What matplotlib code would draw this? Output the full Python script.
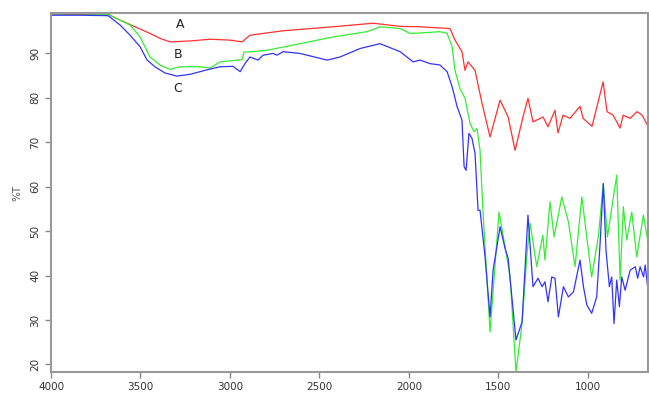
import matplotlib
matplotlib.use("Agg")
import matplotlib.pyplot as plt

# Sample A (red)
wn_a = [4000, 3838, 3681, 3614, 3530, 3447, 3391, 3335, 3223, 3111, 2999, 2932, 2888,
        2703, 2424, 2200, 2049, 1937, 1770, 1742, 1703, 1686, 1669, 1630, 1591, 1546,
        1490, 1445, 1406, 1362, 1334, 1306, 1250, 1222, 1183, 1166, 1138, 1099, 1043,
        1026, 976, 914, 892, 858, 819, 802, 763, 724, 696, 663]
t_a = [98.85, 98.8, 98.8, 97.5, 96.0, 94.5, 93.4, 92.6, 92.8, 93.2, 93.0, 92.6, 94.1,
       95.1, 96.0, 96.8, 96.1, 96.0, 95.6, 93.0, 90.4, 86.2, 88.1, 86.2, 78.8, 71.2,
       79.5, 75.7, 68.2, 75.7, 79.9, 74.6, 75.7, 73.5, 77.2, 72.1, 76.1, 75.4, 78.1,
       75.4, 73.6, 83.6, 76.9, 76.1, 73.2, 76.1, 75.4, 76.9, 76.1, 73.6]

# Sample B (green)
wn_b = [4000, 3838, 3681, 3558, 3502, 3475, 3447, 3391, 3335, 3279, 3167, 3111, 3055,
        2932, 2921, 2871, 2793, 2608, 2424, 2234, 2161, 2049, 1993, 1937, 1826, 1786,
        1758, 1742, 1714, 1686, 1658, 1636, 1619, 1602, 1586, 1546, 1496, 1462, 1434,
        1401, 1367, 1339, 1322, 1285, 1251, 1239, 1211, 1188, 1145, 1108, 1071, 1033,
        978, 941, 913, 890, 838, 819, 801, 782, 754, 726, 689, 661]
t_b = [98.9, 98.9, 98.8, 96.4, 93.7, 91.5, 89.2, 87.4, 86.4, 87.0, 87.0, 86.7, 88.1,
       88.6, 90.3, 90.4, 90.7, 92.2, 93.7, 94.9, 96.0, 95.6, 94.5, 94.6, 94.9, 94.5,
       91.5, 86.2, 82.1, 79.9, 74.3, 72.4, 73.1, 68.2, 54.7, 27.3, 54.3, 46.5, 39.7,
       18.3, 29.3, 45.1, 51.7, 42.0, 49.1, 43.5, 56.6, 48.7, 57.7, 52.1, 42.0, 57.7,
       39.7, 48.7, 60.7, 48.7, 62.6, 39.0, 55.5, 48.0, 54.3, 44.2, 53.6, 47.2]

# Sample C (blue)
wn_c = [4000, 3838, 3681, 3614, 3558, 3502, 3463, 3419, 3363, 3296, 3223, 3139, 3055,
        2983, 2943, 2916, 2888, 2843, 2815, 2759, 2737, 2703, 2608, 2457, 2385, 2273,
        2161, 2049, 1976, 1937, 1881, 1826, 1786, 1758, 1730, 1703, 1691, 1680, 1664,
        1647, 1630, 1613, 1602, 1574, 1546, 1529, 1490, 1462, 1445, 1401, 1367, 1334,
        1306, 1278, 1255, 1239, 1222, 1201, 1183, 1164, 1136, 1108, 1080, 1043, 1024,
        1005, 978, 950, 931, 913, 898, 879, 866, 853, 838, 823, 810, 791, 763, 734,
        721, 707, 688, 679, 661]
t_c = [98.6, 98.6, 98.5, 96.4, 94.1, 91.5, 88.5, 87.0, 85.6, 84.9, 85.3, 86.2, 87.0,
       87.1, 85.9, 87.7, 89.2, 88.5, 89.6, 90.0, 89.6, 90.4, 90.0, 88.5, 89.2, 91.1,
       92.2, 90.4, 88.1, 88.5, 87.7, 87.4, 85.9, 82.5, 78.0, 75.0, 64.5, 63.7, 72.0,
       70.9, 67.5, 54.7, 54.7, 44.2, 30.7, 41.2, 51.0, 46.1, 43.9, 25.5, 29.6, 53.6,
       37.5, 39.4, 37.5, 38.6, 34.1, 39.7, 39.4, 30.7, 37.5, 35.2, 36.3, 43.5, 37.5,
       33.4, 31.5, 35.2, 47.2, 60.7, 45.7, 37.5, 39.7, 29.2, 39.0, 33.0, 39.7, 36.7,
       41.2, 42.0, 39.4, 42.0, 39.7, 42.4, 36.0]

x_ticks = [4000, 3500, 3000, 2500, 2000, 1500, 1000]
y_ticks = [20, 30, 40, 50, 60, 70, 80, 90]
labels = ["A", "B", "C"]

fig = plt.figure(figsize=(6.49, 3.94), dpi=100)
ax = fig.add_axes([0.0786, 0.0558, 0.9199, 0.9112])

ax.plot(wn_a, t_a, color="#ff3030", lw=0.9)
ax.plot(wn_b, t_b, color="#33ee33", lw=0.9)
ax.plot(wn_c, t_c, color="#3333ff", lw=0.9)

ax.set_xlim(4000, 663)
ax.set_ylim(18.3, 99.1)
ax.set_xticks(x_ticks)
ax.set_xticklabels([str(v) for v in x_ticks])
ax.set_yticks(y_ticks)
ax.set_yticklabels([str(v) for v in y_ticks], rotation=90, va="center")
ax.tick_params(axis="both", direction="out", length=4, width=1, color="#888888",
               labelsize=7.5, labelcolor="#333333")
for s in ax.spines.values():
    s.set_color("#999999")
    s.set_linewidth(1.5)
ax.set_ylabel("%T", fontsize=7.5, color="#555555", labelpad=6)

ax.text(3279, 96.4, labels[0], fontsize=9, color="#222222", ha="center", va="center")
ax.text(3290, 89.8, labels[1], fontsize=9, color="#222222", ha="center", va="center")
ax.text(3290, 82.0, labels[2], fontsize=9, color="#222222", ha="center", va="center")

fig.savefig("out.png", dpi=100)
